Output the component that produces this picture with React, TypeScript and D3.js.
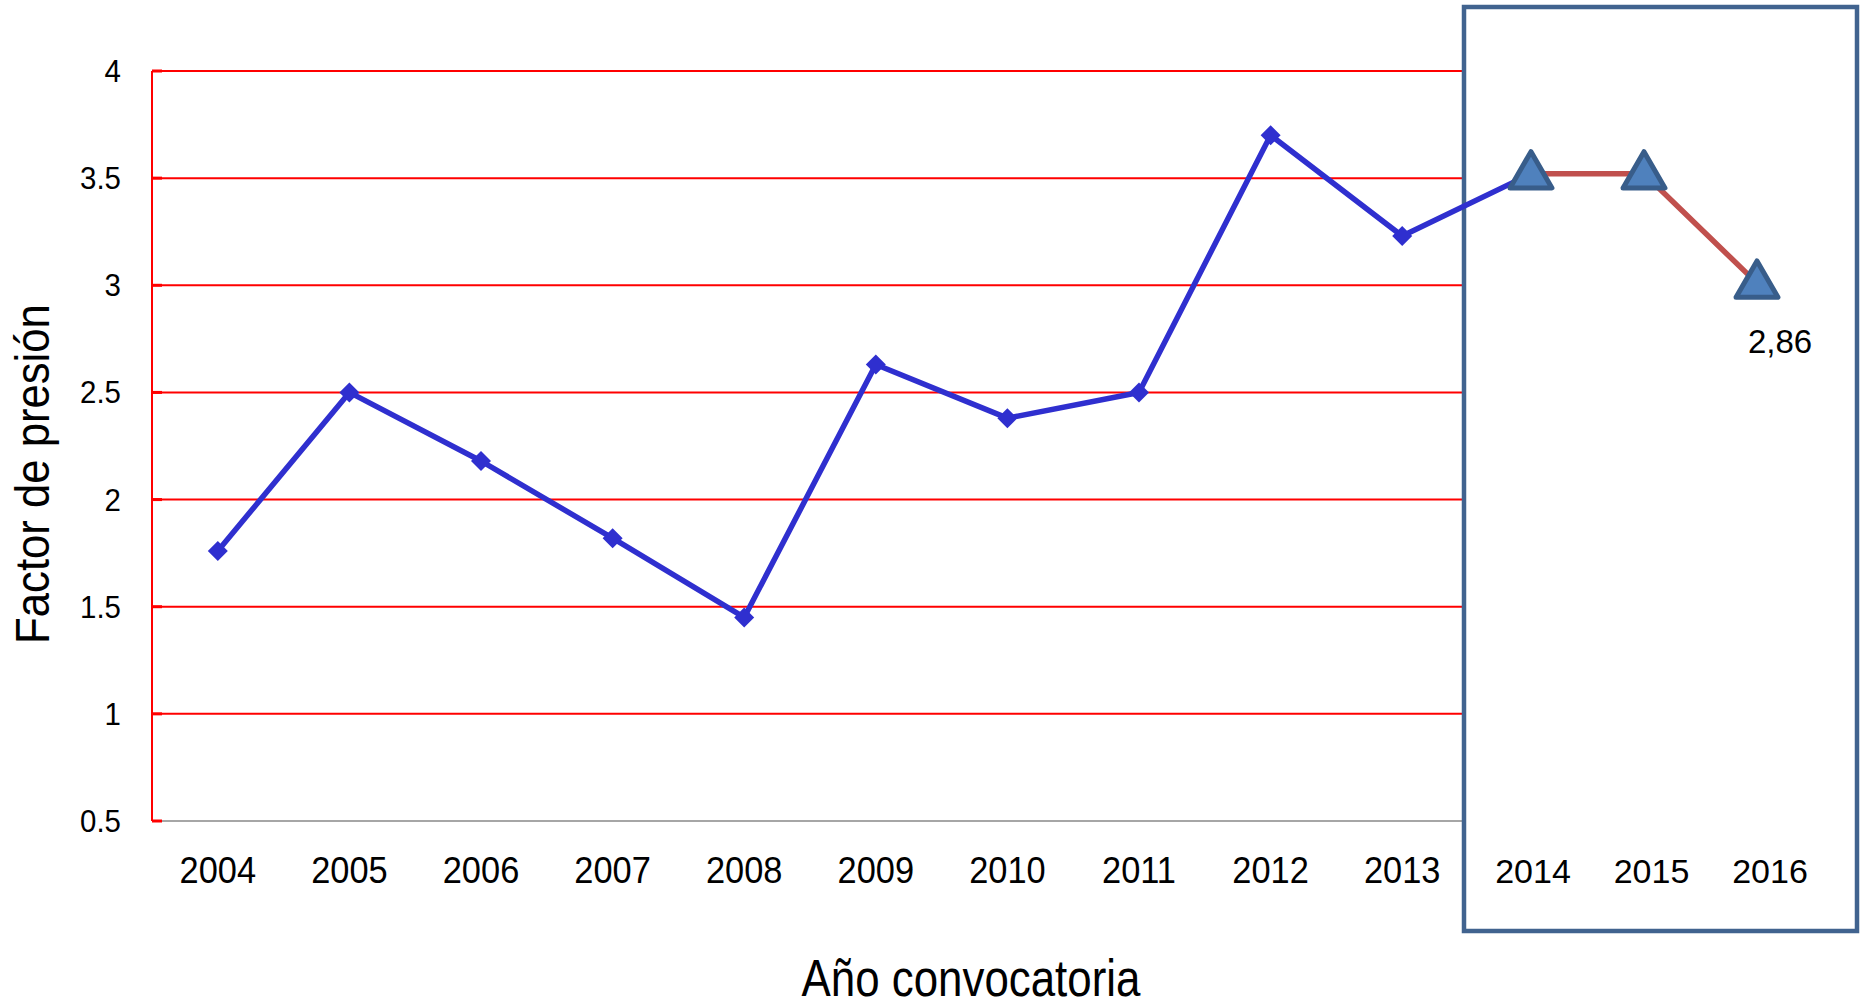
import React, { useRef, useEffect } from 'react';
import * as d3 from 'd3';

const years = ['2004', '2005', '2006', '2007', '2008', '2009', '2010', '2011', '2012', '2013'];
const factor = [1.76, 2.5, 2.18, 1.82, 1.45, 2.63, 2.38, 2.5, 3.7, 3.23];
const recentYears = ['2014', '2015', '2016'];
const recentFactor = [3.52, 3.52, 3.01];
const yTicks = [0.5, 1, 1.5, 2, 2.5, 3, 3.5, 4];
const lastLabel = '2,86';

const W = 1864;
const H = 1006;
const font = '"Liberation Sans", Arial, sans-serif';

type Sel = d3.Selection<SVGSVGElement, unknown, null, undefined>;

// condensed text: regular face squeezed horizontally
const narrowText = (svg: Sel, x: number, y: number, size: number, sx: number, anchor: string, txt: string, rotate = 0) =>
    svg.append('text')
        .attr('transform', `translate(${x},${y}) rotate(${rotate}) scale(${sx},1)`)
        .attr('text-anchor', anchor)
        .style('font-family', font)
        .style('font-size', `${size}px`)
        .attr('fill', '#000')
        .text(txt);

const App: React.FC = () => {
    const ref = useRef<SVGSVGElement>(null);

    useEffect(() => {
        document.body.style.margin = '0';
        if (!ref.current) return;
        const svg = d3.select(ref.current);
        svg.selectAll('*').remove();

        const xScale = d3.scaleBand().domain(years).range([152, 1468]);
        const yScale = d3.scaleLinear().domain([0.5, 4]).range([821, 71]);
        const boxX = d3.scalePoint().domain(recentYears).range([1531, 1757]);
        const boxLabelX = d3.scalePoint().domain(recentYears).range([1533, 1770]);
        const cx = (y: string) => xScale(y)! + xScale.bandwidth() / 2;

        const x0 = xScale.range()[0];
        const x1 = xScale.range()[1] - 2;

        // gridlines
        svg.selectAll('.grid')
            .data(yTicks.slice(1))
            .enter()
            .append('line')
            .attr('x1', x0).attr('x2', x1)
            .attr('y1', d => yScale(d)).attr('y2', d => yScale(d))
            .attr('stroke', '#ff0000').attr('stroke-width', 2);

        // inner ticks
        svg.selectAll('.tick')
            .data(yTicks)
            .enter()
            .append('line')
            .attr('x1', x0).attr('x2', x0 + 10)
            .attr('y1', d => yScale(d)).attr('y2', d => yScale(d))
            .attr('stroke', '#ff0000').attr('stroke-width', 3);

        // baseline
        svg.append('line')
            .attr('x1', x0 + 10).attr('x2', x1)
            .attr('y1', yScale(0.5)).attr('y2', yScale(0.5))
            .attr('stroke', '#a6a6a6').attr('stroke-width', 2);

        // y axis
        svg.append('line')
            .attr('x1', x0).attr('x2', x0)
            .attr('y1', yScale(4)).attr('y2', yScale(0.5))
            .attr('stroke', '#ff0000').attr('stroke-width', 2);

        svg.selectAll('.ylab')
            .data(yTicks)
            .enter()
            .append('text')
            .attr('transform', d => `translate(121,${yScale(d) + 11}) scale(0.95,1)`)
            .attr('text-anchor', 'end')
            .style('font-family', font)
            .style('font-size', '31px')
            .attr('fill', '#000')
            .text(d => String(d));

        years.forEach(y => narrowText(svg, cx(y), 883, 37, 0.93, 'middle', y));

        // highlight box
        svg.append('rect')
            .attr('x', 1464).attr('y', 7)
            .attr('width', 393).attr('height', 924)
            .attr('fill', 'none')
            .attr('stroke', '#41638f').attr('stroke-width', 4.5);

        svg.selectAll('.blab')
            .data(recentYears)
            .enter()
            .append('text')
            .attr('x', d => boxLabelX(d)!)
            .attr('y', 883)
            .attr('text-anchor', 'middle')
            .style('font-family', font)
            .style('font-size', '34px')
            .attr('fill', '#000')
            .text(d => d);

        // blue series, joined to the first highlighted point
        const bluePts: [number, number][] = years.map((y, i) => [cx(y), yScale(factor[i])]);
        bluePts.push([boxX(recentYears[0])!, yScale(recentFactor[0])]);
        svg.append('path')
            .attr('d', d3.line()(bluePts))
            .attr('fill', 'none')
            .attr('stroke', '#2f2fcf').attr('stroke-width', 5.5)
            .attr('stroke-linejoin', 'round');

        const redPts: [number, number][] = recentYears.map((y, i) => [boxX(y)!, yScale(recentFactor[i])]);
        svg.append('path')
            .attr('d', d3.line()(redPts))
            .attr('fill', 'none')
            .attr('stroke', '#c0504d').attr('stroke-width', 5.5);

        svg.selectAll('.diamond')
            .data(years)
            .enter()
            .append('path')
            .attr('d', d3.symbol(d3.symbolSquare, 200)())
            .attr('transform', (d, i) => `translate(${cx(d)},${yScale(factor[i])}) rotate(45)`)
            .attr('fill', '#2f2fcf');

        svg.selectAll('.tri')
            .data(recentYears)
            .enter()
            .append('path')
            .attr('d', d3.symbol(d3.symbolTriangle, 760)())
            .attr('transform', (d, i) => `translate(${boxX(d)},${yScale(recentFactor[i]) + 2})`)
            .attr('fill', '#4f81bd')
            .attr('stroke', '#385d8a').attr('stroke-width', 5)
            .attr('stroke-linejoin', 'round');

        svg.append('text')
            .attr('x', boxX(recentYears[2])! + 23)
            .attr('y', yScale(recentFactor[2]) + 70)
            .attr('text-anchor', 'middle')
            .style('font-family', font)
            .style('font-size', '33px')
            .attr('fill', '#000')
            .text(lastLabel);

        // axis titles
        narrowText(svg, 971, 996, 51, 0.86, 'middle', 'Año convocatoria');
        narrowText(svg, 49, 474, 48, 0.91, 'middle', 'Factor de presión', -90);
    }, []);

    return <svg ref={ref} width={W} height={H} style={{ display: 'block', background: '#fff' }}></svg>;
};

export default App;
